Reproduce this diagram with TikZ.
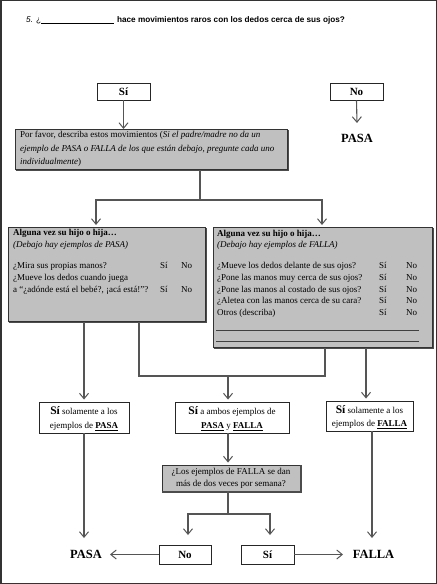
\documentclass[tikz,border=0pt]{standalone}
\usepackage{fontspec}
\setmainfont{Liberation Serif}
\newfontfamily\titlefont{Liberation Sans}
\usetikzlibrary{arrows.meta}

\definecolor{linegray}{HTML}{555555}
\definecolor{boxgray}{HTML}{C0C0C0}
\definecolor{framegray}{HTML}{333333}

\tikzset{
  flow/.style={draw=linegray, line width=1.1bp},
  arr/.style={flow, -{Straight Barb[length=5.5bp, width=9bp, line width=1bp]}},
  plainbox/.style={draw=black!85, line width=0.9bp, fill=white, inner sep=0},
  graybox/.style={draw=black!80, line width=0.9bp, fill=boxgray, inner sep=0},
  shade/.style={draw=black!70, line width=1.2bp},
  txt/.style={inner sep=0, anchor=base west, font=\fontsize{9bp}{10bp}\selectfont},
  ans/.style={inner sep=0, anchor=base west, font=\fontsize{9bp}{10bp}\selectfont},
  big/.style={inner sep=0, font=\bfseries\fontsize{12.5bp}{13bp}\selectfont},
  yn/.style={font=\bfseries\fontsize{11bp}{12bp}\selectfont},
  ctr/.style={inner sep=0, anchor=base, font=\fontsize{9bp}{10bp}\selectfont},
}
\newcommand{\bigsi}{{\bfseries\fontsize{11.5bp}{12bp}\selectfont Sí}}
\newcommand{\ulbf}[1]{\textbf{\underline{#1}}}

\begin{document}
\begin{tikzpicture}[x=1bp, y=-1bp]
  \useasboundingbox (0,0) rectangle (437,584);
  \draw[framegray, line width=1.5bp] (0.75,0.75) rectangle (436.25,583.25);

  % question heading
  \node[inner sep=0, anchor=base west, font=\titlefont\fontsize{8.2bp}{9bp}\selectfont] (title) at (26,23)
    {\textit{5.} ¿\rule[-0.8bp]{73bp}{0.6bp}\hspace{3bp}\textbf{hace movimientos raros con los dedos cerca de sus ojos?}};

  % first answer
  \node[plainbox, minimum width=53bp, minimum height=17bp, yn] (si) at (123.5,91.5) {Sí};
  \node[plainbox, minimum width=53bp, minimum height=17bp, yn] (no) at (356.5,91.5) {No};
  \node[big] (pasatop) at (357,138) {PASA};

  % describe box
  \node[graybox, minimum width=272bp, minimum height=40bp, anchor=north west] (desc) at (15,129) {};
  \draw[shade] ([xshift=0.6bp,yshift=-0.6bp]desc.south west) -- ([xshift=0.6bp,yshift=-0.6bp]desc.south east) -- ([xshift=0.6bp,yshift=-0.6bp]desc.north east);
  \node[txt] (d1) at (20,138) {Por favor, describa estos movimientos (\textit{Si el padre/madre no da un}};
  \node[txt] (d2) at (20,151.5) {\textit{ejemplo de PASA o FALLA de los que están debajo, pregunte cada uno}};
  \node[txt] (d3) at (20,164.5) {\textit{individualmente})};

  % PASA examples box
  \node[graybox, minimum width=197bp, minimum height=94bp, anchor=north west] (pbox) at (8,227) {};
  \draw[shade] ([xshift=0.6bp,yshift=-0.6bp]pbox.south west) -- ([xshift=0.6bp,yshift=-0.6bp]pbox.south east) -- ([xshift=0.6bp,yshift=-0.6bp]pbox.north east);
  \node[txt] (p1) at (13,235.5) {\textbf{Alguna vez su hijo o hija…}};
  \node[txt] (p2) at (13,247.5) {\textit{(Debajo hay ejemplos de PASA)}};
  \node[txt] (p3) at (13,268.5) {¿Mira sus propias manos?};
  \node[ans] (p3s) at (160,268.5) {Sí};
  \node[ans] (p3n) at (181,268.5) {No};
  \node[txt] (p4) at (13,280.5) {¿Mueve los dedos cuando juega};
  \node[txt] (p5) at (13,292) {a “¿adónde está el bebé?, ¡acá está!”?};
  \node[ans] (p5s) at (160,292) {Sí};
  \node[ans] (p5n) at (181,292) {No};

  % FALLA examples box
  \node[graybox, minimum width=219bp, minimum height=120bp, anchor=north west] (fbox) at (213,227) {};
  \draw[shade] ([xshift=0.6bp,yshift=-0.6bp]fbox.south west) -- ([xshift=0.6bp,yshift=-0.6bp]fbox.south east) -- ([xshift=0.6bp,yshift=-0.6bp]fbox.north east);
  \node[txt] (f1) at (217,236) {\textbf{Alguna vez su hijo o hija…}};
  \node[txt] (f2) at (217,247.5) {\textit{(Debajo hay ejemplos de FALLA)}};
  \node[txt] (f3) at (217,268.5) {¿Mueve los dedos delante de sus ojos?};
  \node[txt] (f4) at (217,280.3) {¿Pone las manos muy cerca de sus ojos?};
  \node[txt] (f5) at (217,292.1) {¿Pone las manos al costado de sus ojos?};
  \node[txt] (f6) at (217,303.9) {¿Aletea con las manos cerca de su cara?};
  \node[txt] (f7) at (217,315.7) {Otros (describa)};
  \foreach \yy [count=\i] in {268.5,280.3,292.1,303.9,315.7} {
    \node[ans] (fs\i) at (379,\yy) {Sí};
    \node[ans] (fn\i) at (406,\yy) {No};
  }
  \coordinate (w1a) at (216,330); \coordinate (w1b) at (419,330);
  \coordinate (w2a) at (216,341.5); \coordinate (w2b) at (419,341.5);
  \draw[black!75, line width=0.9bp] (w1a) -- (w1b);
  \draw[black!75, line width=0.9bp] (w2a) -- (w2b);

  % three outcomes
  \node[plainbox, minimum width=90bp, minimum height=31bp] (onlypasa) at (84,417.5) {};
  \node[ctr] (op1) at (84,414.5) {\bigsi\ solamente a los};
  \node[ctr] (op2) at (84,428.5) {ejemplos de \ulbf{PASA}};

  \node[plainbox, minimum width=114bp, minimum height=31bp] (both) at (232,417.5) {};
  \node[ctr] (bo1) at (232,414.5) {\bigsi\ a ambos ejemplos de};
  \node[ctr] (bo2) at (232,428.5) {\ulbf{PASA} y \ulbf{FALLA}};

  \node[plainbox, minimum width=87bp, minimum height=30bp] (onlyfalla) at (369.5,416) {};
  \node[ctr] (of1) at (369.5,413) {\bigsi\ solamente a los};
  \node[ctr] (of2) at (369.5,426.5) {ejemplos de \ulbf{FALLA}};

  % frequency question
  \node[graybox, minimum width=138bp, minimum height=26bp] (freq) at (231,478) {};
  \draw[shade] ([xshift=0.6bp,yshift=-0.6bp]freq.south west) -- ([xshift=0.6bp,yshift=-0.6bp]freq.south east) -- ([xshift=0.6bp,yshift=-0.6bp]freq.north east);
  \node[ctr] (q1) at (231,474.5) {¿Los ejemplos de FALLA se dan};
  \node[ctr] (q2) at (231,486) {más de dos veces por semana?};

  \node[plainbox, minimum width=52bp, minimum height=19bp, yn] (no2) at (185,554.5) {No};
  \node[plainbox, minimum width=53bp, minimum height=19bp, yn] (si2) at (267.5,554.5) {Sí};
  \node[big] (pasa) at (86,554) {PASA};
  \node[big] (falla) at (373.5,554) {FALLA};

  % end points of the arrows that stop short of their targets
  \coordinate (toPasaTop) at (357,123);
  \coordinate (toPasa) at (84,538);
  \coordinate (toFalla) at (372,538);
  \coordinate (toNo) at (188,535);
  \coordinate (toSi) at (270,535);
  \coordinate (leftPasa) at (110,554.5);
  \coordinate (rightFalla) at (343,554.5);

  % connectors
  \draw[arr] (si.south) -- (desc.north -| si.south);
  \draw[arr] (no.south) -- (toPasaTop);

  \coordinate (split) at (200,200);
  \draw[flow] (desc.south -| split) -- (split);
  \draw[arr] (split) -| ([yshift=2bp]pbox.north -| 96,0);
  \draw[arr] (split) -| ([yshift=2bp]fbox.north -| 322,0);

  \coordinate (joinL) at (139,376);
  \coordinate (joinR) at (325,376);
  \coordinate (joinM) at (228,376);
  \draw[flow] (pbox.south -| joinL) -- (joinL) -- (joinR) -- (fbox.south -| joinR);
  \draw[arr] (joinM) -- ([yshift=2bp]both.north -| joinM);
  \draw[arr] (pbox.south -| 84,0) -- ([yshift=2bp]onlypasa.north);
  \draw[arr] (fbox.south -| 366,0) -- ([yshift=2bp]onlyfalla.north -| 366,0);

  \draw[arr] (onlypasa.south) -- (toPasa);
  \draw[arr] (both.south -| joinM) -- ([yshift=2bp]freq.north -| joinM);
  \draw[arr] (onlyfalla.south -| toFalla) -- (toFalla);

  \coordinate (split2) at (228,514);
  \draw[flow] (freq.south -| split2) -- (split2);
  \draw[arr] (split2) -| (toNo);
  \draw[arr] (split2) -| (toSi);
  \draw[arr] (no2.west) -- (leftPasa);
  \draw[arr] (si2.east) -- (rightFalla);
\end{tikzpicture}
\end{document}
